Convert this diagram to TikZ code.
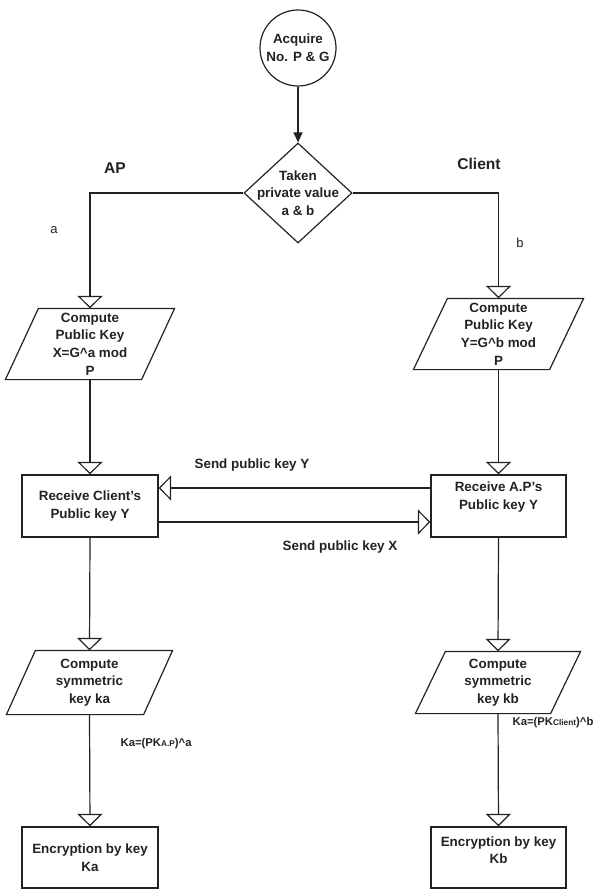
\documentclass[tikz,border=0pt]{standalone}
\usepackage{fontspec}
\setmainfont{Liberation Sans}
\usetikzlibrary{shapes.geometric,arrows.meta}
\definecolor{ink}{HTML}{222222}
\begin{document}
\begin{tikzpicture}[x=1pt,y=-1pt,line width=1.2pt,color=ink,
  txt/.style={font=\fontsize{13.4}{17.6}\selectfont\bfseries, text=ink, align=center, inner sep=0pt},
  boxn/.style={txt, draw, rectangle, minimum width=136pt, minimum height=62pt},
  paran/.style={txt, rectangle, minimum width=#1},
  oarrow/.style={-{Triangle[open,width=25pt,length=12.5pt]}},
  farrow/.style={-{Triangle[width=9pt,length=10pt]}},
  head/.style={font=\fontsize{15.6}{18}\selectfont\bfseries, text=ink, inner sep=0pt},
  small/.style={font=\fontsize{13}{15}\selectfont, text=ink, inner sep=0pt},
  ka/.style={font=\fontsize{11.3}{13}\selectfont\bfseries, text=ink, inner sep=0pt, anchor=west}]
\useasboundingbox (0,0) rectangle (600,890);

% start and decision
\node[circle, draw, minimum size=76pt, txt] (c) at (298,48) {Acquire\\No. P \& G};
\node[diamond, draw, minimum width=108pt, minimum height=100pt, inner sep=0pt] (d) at (298,193) {};
\node[txt] (dt) at (298,193) {Taken\\private value\\a \& b};

% public key computation
\node[paran=168pt, minimum height=70pt] (p1) at (90,344) {Compute\\Public Key\\X=G\textasciicircum a mod\\P};
\draw ([xshift=33pt]p1.north west) -- (p1.north east) -- ([xshift=-33pt]p1.south east) -- (p1.south west) -- cycle;
\node[paran=169pt, minimum height=70pt] (p2) at (498.5,334) {Compute\\Public Key\\Y=G\textasciicircum b mod\\P};
\draw ([xshift=34pt]p2.north west) -- (p2.north east) -- ([xshift=-34pt]p2.south east) -- (p2.south west) -- cycle;

% receive boxes
\node[boxn] (m1) at (90,506) {Receive Client’s\\Public key Y};
\node[boxn, minimum width=135pt] (m2) at (498.5,506) {};
\node[txt] (m2t) at (498.5,497) {Receive A.P’s\\Public key Y};

% symmetric key
\node[paran=165pt, minimum height=63pt] (p3) at (89.5,682.5) {Compute\\symmetric\\key ka};
\draw ([xshift=29pt]p3.north west) -- (p3.north east) -- ([xshift=-29pt]p3.south east) -- (p3.south west) -- cycle;
\node[paran=164pt, minimum height=61pt] (p4) at (498,682.5) {Compute\\symmetric\\key kb};
\draw ([xshift=30pt]p4.north west) -- (p4.north east) -- ([xshift=-30pt]p4.south east) -- (p4.south west) -- cycle;

% encryption
\node[boxn, minimum height=61pt] (e1) at (90,857.5) {Encryption by key\\Ka};
\node[boxn, minimum width=135pt, minimum height=61pt] (e2) at (498.5,857.5) {};
\node[txt] (e2t) at (498.5,850) {Encryption by key\\Kb};

% labels
\node[head] (ap) at (115,168) {AP};
\node[head] (cl) at (479,164) {Client};
\node[small] (la) at (54,230) {a};
\node[small] (lb) at (520,243) {b};
\node[txt] (sy) at (252,465) {Send public key Y};
\node[txt] (sx) at (340,547) {Send public key X};
\node[ka] (ka1) at (120,744) {Ka=(PK{\fontsize{8.3}{9}\selectfont A.P})\textasciicircum a};
\node[ka] (ka2) at (512,723) {Ka=(PK{\fontsize{8.3}{9}\selectfont Client})\textasciicircum b};

% connectors
\draw[farrow] (c) -- (d);
\draw[oarrow] (d.west) -| (p1.north);
\draw[oarrow] (d.east) -| (p2.north);
\draw[oarrow] (p1.south) -- (m1.north);
\draw[oarrow] (p2.south) -- (m2.north);
\draw[oarrow] ([yshift=18pt]m2.west) -- ([yshift=18pt]m2.west -| m1.east);
\draw[oarrow] ([yshift=-16pt]m1.east) -- ([yshift=-16pt]m1.east -| m2.west);
\draw[oarrow] (m1.south) -- (p3.north);
\draw[oarrow] (m2.south) -- (p4.north);
\draw[oarrow] (p3.south) -- (e1.north);
\draw[oarrow] (p4.south) -- (e2.north);
\end{tikzpicture}
\end{document}
